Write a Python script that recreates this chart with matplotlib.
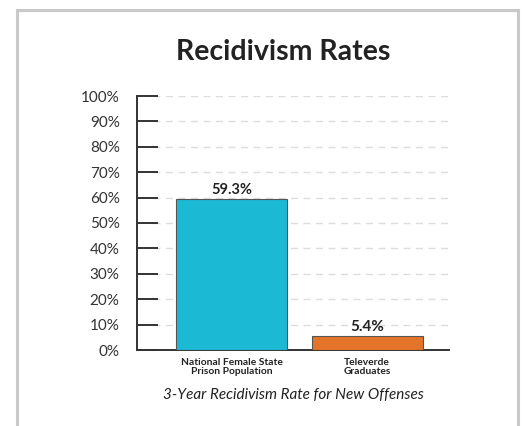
import matplotlib.pyplot as plt
from matplotlib.patches import Rectangle

categories = ['National Female State\nPrison Population', 'Televerde\nGraduates']
rates = [59.3, 5.4]
bar_labels = ['59.3%', '5.4%']
bar_colors = ['#1bb9d4', '#e4742a']
yticks = [0, 10, 20, 30, 40, 50, 60, 70, 80, 90, 100]

plt.rcParams['font.family'] = ['Lato', 'DejaVu Sans']

fig = plt.figure(figsize=(5.26, 4.26), dpi=100)
fig.patch.set_facecolor('white')

# grey frame round the card
fig.patches.append(Rectangle((17/526, -0.1), 501/526, 1.1 - 10/426,
                             transform=fig.transFigure, fill=False,
                             edgecolor='#c9c9c9', linewidth=2.2))

ax = fig.add_axes([137/526, 1-350/426, 312/526, 254/426])
x = [0, 1]
ax.bar(x, rates, width=0.82, color=bar_colors, edgecolor='#555555',
       linewidth=0.8, zorder=3)
ax.text(x[0], rates[0] + 0.8, bar_labels[0], ha='center', va='bottom',
        fontsize=10.5, fontweight='bold', color='#222222')
ax.text(x[1], rates[1] + 0.8, bar_labels[1], ha='center', va='bottom',
        fontsize=11, fontweight='bold', color='#222222')

ax.set_xlim(-0.70, 1.605)
ax.set_ylim(0, 100)
ax.set_yticks(yticks)
ax.set_yticklabels([f'{t}%' for t in yticks], fontsize=11, color='#333333')
ax.set_xticks(x)
ax.set_xticklabels(categories, fontsize=7.4, fontweight='bold', color='#222222',
                   linespacing=0.95)
ax.tick_params(axis='x', length=0, pad=6)
ax.tick_params(axis='y', direction='in', length=15, width=1.4, color='#333333', pad=12.5)

for t in yticks[1:]:
    ax.plot([-0.585, 1.605], [t, t], color='#dddddd', linewidth=1,
            dashes=(5, 4), zorder=1)

for s in ['top', 'right']:
    ax.spines[s].set_visible(False)
for s in ['left', 'bottom']:
    ax.spines[s].set_color('#333333')
    ax.spines[s].set_linewidth(1.4)

ax.set_xlabel('3-Year Recidivism Rate for New Offenses', fontsize=11,
              fontstyle='italic', color='#222222', labelpad=9)

fig.text(283/526, 1-52/426, 'Recidivism Rates', ha='center', va='center',
         fontsize=20.5, fontweight='bold', color='#222222')

fig.savefig('out.png', dpi=100)
